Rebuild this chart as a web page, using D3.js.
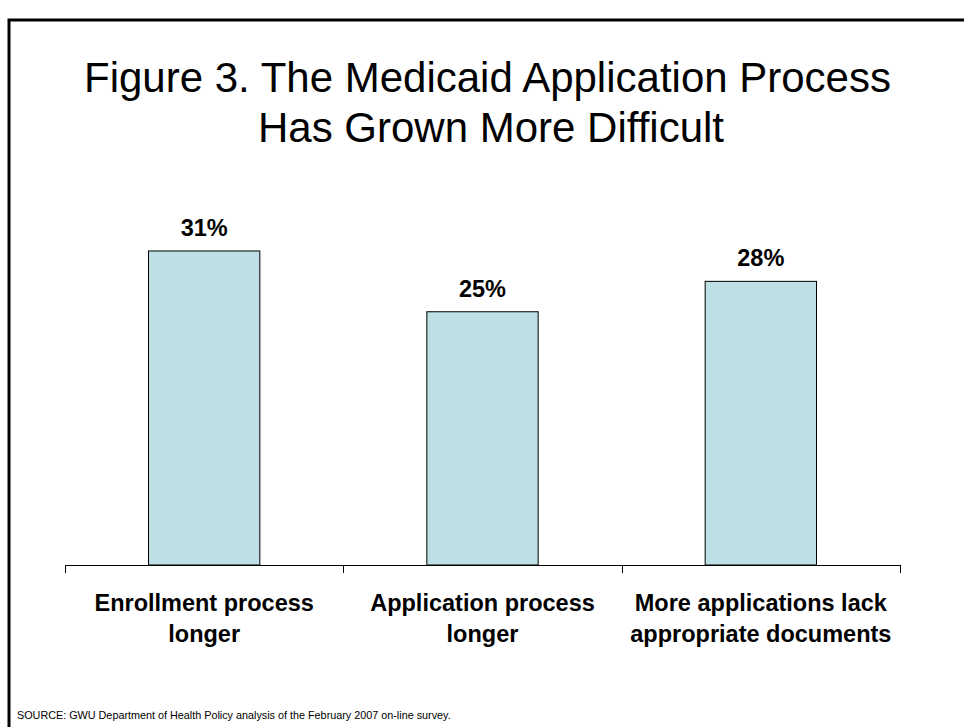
<!DOCTYPE html>
<html>
<head>
<meta charset="utf-8">
<script src="https://cdn.jsdelivr.net/npm/d3@7/dist/d3.min.js"></script>
<style>
  html, body { margin: 0; padding: 0; background: #fff; }
  svg { display: block; }
  text { font-family: Arial, "Liberation Sans", Helvetica, sans-serif; fill: #000; }
</style>
</head>
<body>
<svg id="chart" width="964" height="727"></svg>
<script>
const categories = [
  ["Enrollment process", "longer"],
  ["Application process", "longer"],
  ["More applications lack", "appropriate documents"]
];
const values = [31, 25, 28];
const valueLabels = ["31%", "25%", "28%"];
const titleLines = ["Figure 3. The Medicaid Application Process", "Has Grown More Difficult"];
const sourceText = "SOURCE: GWU Department of Health Policy analysis of the February 2007 on-line survey.";

const svg = d3.select("#chart");

// frame
svg.append("path")
  .attr("d", "M9,727 L9,20 L964,20")
  .attr("fill", "none")
  .attr("stroke", "#000")
  .attr("stroke-width", 3);

// title
svg.append("g").selectAll("text")
  .data(titleLines)
  .join("text")
  .attr("x", (d, i) => i === 0 ? 487.5 : 491)
  .attr("y", (d, i) => 92 + i * 50)
  .attr("text-anchor", "middle")
  .attr("font-size", 42)
  .text(d => d);

const keys = categories.map(c => c.join(" "));
const x = d3.scaleBand().domain(keys).range([65, 900]).paddingInner(0.6).paddingOuter(0.3);
const y = d3.scaleLinear().domain([0, 35]).range([565, 210.45]);

// bars
svg.append("g").selectAll("rect")
  .data(values)
  .join("rect")
  .attr("x", (d, i) => x(keys[i]))
  .attr("width", x.bandwidth())
  .attr("y", d => y(d))
  .attr("height", d => y(0) - y(d))
  .attr("fill", "#BCE0E3")
  .attr("stroke", "#000")
  .attr("stroke-width", 1);

// value labels
svg.append("g").selectAll("text")
  .data(values)
  .join("text")
  .attr("x", (d, i) => x(keys[i]) + x.bandwidth() / 2)
  .attr("y", d => y(d) - 15)
  .attr("text-anchor", "middle")
  .attr("font-size", 23.5)
  .attr("font-weight", "bold")
  .text((d, i) => valueLabels[i]);

// axis
const axis = svg.append("g");
const r = x.range();
axis.append("line")
  .attr("x1", r[0]).attr("x2", r[1])
  .attr("y1", y(0) + 0.5).attr("y2", y(0) + 0.5)
  .attr("stroke", "#000");
const bounds = d3.range(keys.length + 1).map(i => r[0] + i * x.step());
axis.selectAll("line.tick")
  .data(bounds)
  .join("line")
  .attr("class", "tick")
  .attr("x1", d => Math.round(d) + 0.5).attr("x2", d => Math.round(d) + 0.5)
  .attr("y1", y(0)).attr("y2", y(0) + 8)
  .attr("stroke", "#000");

// category labels
const cat = svg.append("g").selectAll("text")
  .data(categories)
  .join("text")
  .attr("x", (d, i) => x(keys[i]) + x.bandwidth() / 2)
  .attr("y", 611)
  .attr("text-anchor", "middle")
  .attr("font-size", 23.5)
  .attr("font-weight", "bold");
cat.selectAll("tspan")
  .data(d => d)
  .join("tspan")
  .attr("x", function() { return d3.select(this.parentNode).attr("x"); })
  .attr("dy", (d, i) => i === 0 ? 0 : 31)
  .text(d => d);

// source
svg.append("text")
  .attr("x", 17)
  .attr("y", 719)
  .attr("font-size", 10.8)
  .text(sourceText);
</script>
</body>
</html>
